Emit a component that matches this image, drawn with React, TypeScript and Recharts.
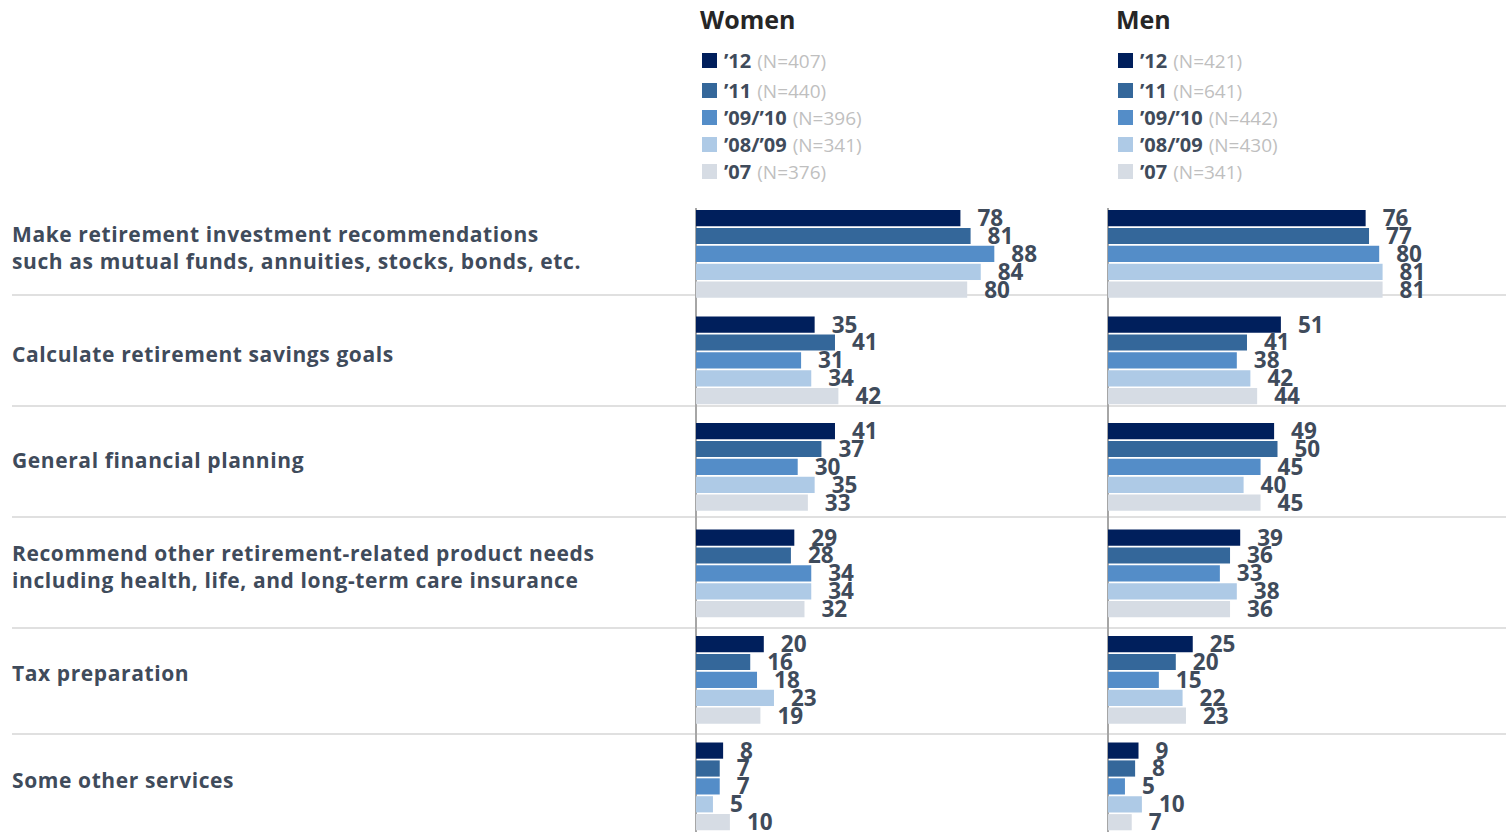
import React from "react";
import { BarChart, Bar, XAxis, YAxis, LabelList } from "recharts";

const categories = [
  "Make retirement investment recommendations\nsuch as mutual funds, annuities, stocks, bonds, etc.",
  "Calculate retirement savings goals",
  "General financial planning",
  "Recommend other retirement-related product needs\nincluding health, life, and long-term care insurance",
  "Tax preparation",
  "Some other services",
];

const seriesKeys = ["y12", "y11", "y0910", "y0809", "y07"];
const seriesNames = ["\u201912", "\u201911", "\u201909/\u201910", "\u201908/\u201909", "\u201907"];
const seriesColors = ["#001f5c", "#34679a", "#548dc8", "#aecae6", "#d6dce4"];

const womenN = [407, 440, 396, 341, 376];
const menN = [421, 641, 442, 430, 341];

const women12 = [78, 35, 41, 29, 20, 8];
const women11 = [81, 41, 37, 28, 16, 7];
const women0910 = [88, 31, 30, 34, 18, 7];
const women0809 = [84, 34, 35, 34, 23, 5];
const women07 = [80, 42, 33, 32, 19, 10];

const men12 = [76, 51, 49, 39, 25, 9];
const men11 = [77, 41, 50, 36, 20, 8];
const men0910 = [80, 38, 45, 33, 15, 5];
const men0809 = [81, 42, 40, 38, 22, 10];
const men07 = [81, 44, 45, 36, 23, 7];

const build = (arrs: number[][]) =>
  categories.map((c, i) => {
    const row: any = { category: c };
    seriesKeys.forEach((k, j) => (row[k] = arrs[j][i]));
    return row;
  });

const womenData = build([women12, women11, women0910, women0809, women07]);
const menData = build([men12, men11, men0910, men0809, men07]);

const FONT = "'Open Sans', sans-serif";
const TEXT = "#3f4b5b";

const CategoryTick = (props: any) => {
  const { y, payload } = props;
  const lines: string[] = String(payload.value).split("\n");
  const lh = 27;
  const start = -((lines.length - 1) * lh) / 2 - 7;
  return (
    <text
      x={12}
      y={y}
      textAnchor="start"
      dominantBaseline="central"
      fill={TEXT}
      style={{ fontFamily: FONT, fontSize: 21, fontWeight: 700, letterSpacing: 0.6 }}
    >
      {lines.map((l, i) => (
        <tspan key={i} x={12} dy={i === 0 ? start : lh} dominantBaseline="central">
          {l}
        </tspan>
      ))}
    </text>
  );
};

const LegendBlock = ({ title, ns, left }: { title: string; ns: number[]; left: number }) => (
  <div style={{ position: "absolute", left, top: 0, fontFamily: FONT, width: 330 }}>
    <div
      style={{
        position: "absolute",
        left: -2,
        top: 4,
        fontSize: 25,
        fontWeight: 700,
        color: "#262626",
        lineHeight: "30px",
        whiteSpace: "nowrap",
      }}
    >
      {title}
    </div>
    <div style={{ position: "absolute", left: 0, top: 47 }}>
      {seriesNames.map((name, i) => (
        <div
          key={name}
          style={{ display: "flex", alignItems: "center", height: 27, marginBottom: i === 0 ? 3 : 0, whiteSpace: "nowrap" }}
        >
          <span style={{ width: 15, height: 15, background: seriesColors[i], display: "inline-block" }} />
          <span style={{ marginLeft: 7, fontSize: 20, fontWeight: 700, color: TEXT }}>{name}</span>
          <span style={{ marginLeft: 6, fontSize: 19, color: "#bfbfbf" }}>(N={ns[i]})</span>
        </div>
      ))}
    </div>
  </div>
);

const separators = [295, 406, 517, 628, 734];

const renderBars = () =>
  seriesKeys.map((k, j) => (
    <Bar
      key={k}
      dataKey={k}
      name={seriesNames[j]}
      fill={seriesColors[j]}
      barSize={16.2}
      isAnimationActive={false}
    >
      <LabelList
        dataKey={k}
        position="right"
        offset={17}
        fill={TEXT}
        style={{ fontFamily: FONT, fontSize: 22.5, fontWeight: 700, fill: TEXT }}
      />
    </Bar>
  ));

export default function App() {
  return (
    <div
      style={{
        position: "absolute",
        left: 0,
        top: 0,
        width: 1506,
        height: 832,
        overflow: "hidden",
        background: "#fff",
        fontFamily: FONT,
      }}
    >
      {separators.map((y) => (
        <div
          key={y}
          style={{ position: "absolute", left: 12, top: y - 1, width: 1494, height: 2, background: "#e0e0e0" }}
        />
      ))}
      <div style={{ position: "absolute", left: 695, top: 208, width: 2, height: 640, background: "#a6a6a6" }} />
      <div style={{ position: "absolute", left: 1107, top: 208, width: 2, height: 640, background: "#a6a6a6" }} />

      <LegendBlock title="Women" ns={womenN} left={702} />
      <LegendBlock title="Men" ns={menN} left={1118} />

      <div style={{ position: "absolute", left: 0, top: 0 }}>
        <BarChart
          width={1100}
          height={840}
          layout="vertical"
          data={womenData}
          barGap={1.7}
          margin={{ top: 201, right: 65, left: 0, bottom: 0 }}
        >
          <XAxis type="number" domain={[0, 100]} hide />
          <YAxis
            type="category"
            dataKey="category"
            width={696}
            axisLine={false}
            tickLine={false}
            tick={<CategoryTick />}
            interval={0}
          />
          {renderBars()}
        </BarChart>
      </div>

      <div style={{ position: "absolute", left: 1100, top: 0 }}>
        <BarChart
          width={406}
          height={840}
          layout="vertical"
          data={menData}
          barGap={1.7}
          margin={{ top: 201, right: 59, left: 8, bottom: 0 }}
        >
          <XAxis type="number" domain={[0, 100]} hide />
          <YAxis type="category" dataKey="category" hide />
          {renderBars()}
        </BarChart>
      </div>
    </div>
  );
}
